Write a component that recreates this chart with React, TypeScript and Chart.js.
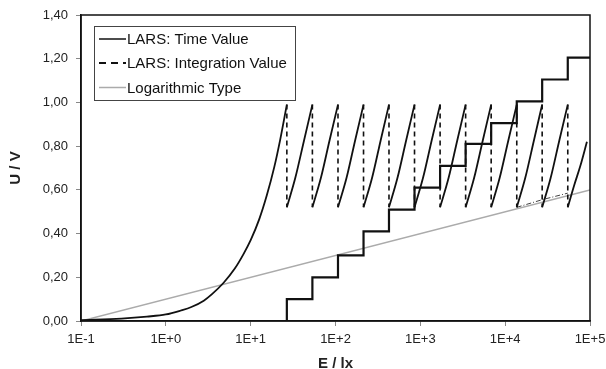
import React, { useEffect, useRef } from "react";
import { Chart, registerables } from "chart.js";

Chart.register(...registerables);

// ---- tick labels ----
const xTickValues = [0.1, 1, 10, 100, 1000, 10000, 100000];
const xTickLabels = ["1E-1", "1E+0", "1E+1", "1E+2", "1E+3", "1E+4", "1E+5"];
const yTickValues = [0, 0.2, 0.4, 0.6, 0.8, 1.0, 1.2, 1.4];
const yTickLabels = ["0,00", "0,20", "0,40", "0,60", "0,80", "1,00", "1,20", "1,40"];

// ---- LARS: Time Value (initial curve + sawtooth rises), null = gap ----
const timeE = [
  0.1, 0.3, 0.6, 1, 1.5, 2, 2.8, 3.5, 4.8, 6.5, 8.2, 10, 12.6, 15.5, 19, 22.3, 26.7, null,
  26.7, 33.6, 42.5, 53.4, null,
  53.4, 67.3, 84.9, 107, null,
  107, 135, 170, 214, null,
  214, 270, 340, 427, null,
  427, 538, 679, 854, null,
  854, 1076, 1358, 1710, null,
  1710, 2155, 2719, 3420, null,
  3420, 4309, 5438, 6840, null,
  6840, 8618, 10876, 13700, null,
  13700, 17262, 21783, 27300, null,
  27300, 34398, 43407, 54700, null,
  54700, 65000, 77000, 92000,
];
const timeU = [
  0.004, 0.011, 0.02, 0.03, 0.048, 0.064, 0.093, 0.123, 0.175, 0.24, 0.305, 0.37, 0.465, 0.575, 0.705, 0.83, 0.99, null,
  0.52, 0.655, 0.825, 0.99, null,
  0.52, 0.655, 0.825, 0.99, null,
  0.52, 0.655, 0.825, 0.99, null,
  0.52, 0.655, 0.825, 0.99, null,
  0.52, 0.655, 0.825, 0.99, null,
  0.52, 0.655, 0.825, 0.99, null,
  0.52, 0.655, 0.825, 0.99, null,
  0.52, 0.655, 0.825, 0.99, null,
  0.52, 0.655, 0.825, 0.99, null,
  0.52, 0.655, 0.825, 0.99, null,
  0.52, 0.655, 0.825, 0.99, null,
  0.52, 0.62, 0.71, 0.82,
];

// ---- LARS: Integration Value (vertical drops) ----
const dropE = [26.7, 53.4, 107, 214, 427, 854, 1710, 3420, 6840, 13700, 27300, 54700];
const dropTopU = [0.99, 0.99, 0.99, 0.99, 0.99, 0.99, 0.99, 0.99, 0.99, 0.99, 0.99, 0.99];
const dropBottomU = [0.52, 0.52, 0.52, 0.52, 0.52, 0.52, 0.52, 0.52, 0.52, 0.52, 0.52, 0.52];

// ---- staircase ----
const stepE = [26.7, 26.7, 53.4, 107, 214, 427, 854, 1710, 3420, 6840, 13700, 27300, 54700, 100000];
const stepU = [0, 0.1, 0.2, 0.3, 0.41, 0.51, 0.61, 0.71, 0.81, 0.905, 1.005, 1.105, 1.205, 1.205];

// ---- dash-dot segment at the end ----
const ddE = [13700, 27300, 54700];
const ddU = [0.52, 0.555, 0.585];

// ---- Logarithmic Type ----
const logE = [0.1, 100000];
const logU = [0, 0.6];

const FONT = "'Liberation Sans', Arial, Helvetica, sans-serif";

function pts(xs: (number | null)[], ys: (number | null)[]) {
  return xs.map((x, i) => ({ x: x === null ? (xs[i - 1] as number) : x, y: ys[i] }));
}

const framePlugin = {
  id: "frameAndLegend",
  afterDraw(chart: any) {
    const { ctx, chartArea: ca } = chart;
    ctx.save();
    ctx.strokeStyle = "#111";
    ctx.lineWidth = 1.5;
    ctx.strokeRect(ca.left, ca.top, ca.right - ca.left, ca.bottom - ca.top);

    // legend
    const lx = Math.round(ca.left + 13);
    const ly = Math.round(ca.top + 11);
    const w = 201;
    const h = 74;
    ctx.fillStyle = "#fff";
    ctx.fillRect(lx, ly, w, h);
    ctx.strokeStyle = "#444";
    ctx.lineWidth = 1;
    ctx.strokeRect(lx + 0.5, ly + 0.5, w, h);
    const rows = [13, 37, 61.5];
    const items = chart.data.datasets.filter((d: any) => d.inLegend);
    items.forEach((d: any, i: number) => {
      const y = ly + rows[i];
      ctx.beginPath();
      ctx.setLineDash(d.legendDash || []);
      ctx.strokeStyle = d.borderColor;
      ctx.lineWidth = d.legendWidth || d.borderWidth;
      ctx.moveTo(lx + 5, y);
      ctx.lineTo(lx + 32, y);
      ctx.stroke();
      ctx.setLineDash([]);
      ctx.fillStyle = "#111";
      ctx.font = `15px ${FONT}`;
      ctx.textBaseline = "middle";
      ctx.textAlign = "left";
      ctx.fillText(d.label, lx + 33, y + 1);
    });
    ctx.restore();
  },
};

export default function App() {
  const ref = useRef<HTMLCanvasElement | null>(null);

  useEffect(() => {
    if (!ref.current) return;
    Chart.defaults.font.family = FONT;
    const intData: any[] = [];
    dropE.forEach((e, i) => {
      intData.push({ x: e, y: dropTopU[i] });
      intData.push({ x: e, y: dropBottomU[i] });
      intData.push({ x: e, y: null });
    });

    const chart = new Chart(ref.current, {
      type: "line",
      data: {
        datasets: [
          {
            label: "LARS: Time Value",
            inLegend: true,
            legendWidth: 1.5,
            data: pts(timeE, timeU),
            borderColor: "#111",
            borderWidth: 1.8,
            pointRadius: 0,
            cubicInterpolationMode: "monotone",
            spanGaps: false,
          } as any,
          {
            label: "LARS: Integration Value",
            inLegend: true,
            legendDash: [7, 5],
            legendWidth: 2,
            data: intData,
            borderColor: "#111",
            borderWidth: 1.6,
            borderDash: [5, 4],
            pointRadius: 0,
            spanGaps: false,
          } as any,
          {
            label: "steps",
            data: pts(stepE, stepU),
            borderColor: "#111",
            borderWidth: 2.2,
            pointRadius: 0,
            stepped: "before",
          } as any,
          {
            label: "dashdot",
            data: pts(ddE, ddU),
            borderColor: "#444",
            borderWidth: 1,
            borderDash: [5, 2, 1, 2],
            pointRadius: 0,
          } as any,
          {
            label: "Logarithmic Type",
            inLegend: true,
            legendWidth: 1.5,
            data: pts(logE, logU),
            borderColor: "#ababab",
            borderWidth: 1.5,
            pointRadius: 0,
          } as any,
        ],
      },
      options: {
        responsive: false,
        animation: false,
        events: [],
        layout: { padding: { top: 15, right: 16, left: 0, bottom: 0 } },
        plugins: { legend: { display: false }, tooltip: { enabled: false } },
        scales: {
          x: {
            type: "logarithmic",
            min: 0.1,
            max: 100000,
            afterBuildTicks: (s: any) => {
              s.ticks = xTickValues.map((v) => ({ value: v }));
            },
            afterFit: (s: any) => {
              s.height = 48;
              s.paddingLeft = 0;
              s.paddingRight = 0;
            },
            ticks: {
              autoSkip: false,
              maxRotation: 0,
              padding: 6,
              color: "#222",
              font: { size: 13 },
              callback: (_v: any, i: number) => xTickLabels[i],
            },
            grid: { drawOnChartArea: false, tickLength: 5, color: "#888" },
            border: { color: "#111", width: 1.5 },
            title: {
              display: true,
              text: "E / lx",
              color: "#222",
              font: { size: 15, weight: "bold", lineHeight: 0.7 },
              padding: { top: 0, bottom: 0 },
            },
          },
          y: {
            type: "linear",
            min: 0,
            max: 1.4,
            afterBuildTicks: (s: any) => {
              s.ticks = yTickValues.map((v) => ({ value: v }));
            },
            afterFit: (s: any) => {
              s.width = 81;
              s.paddingTop = 0;
              s.paddingBottom = 0;
            },
            ticks: {
              padding: 8,
              color: "#222",
              font: { size: 13 },
              callback: (_v: any, i: number) => yTickLabels[i],
            },
            grid: { drawOnChartArea: false, tickLength: 5, color: "#888" },
            border: { color: "#111", width: 1.5 },
            title: {
              display: true,
              text: "U / V",
              color: "#222",
              font: { size: 15, weight: "bold", lineHeight: 1 },
              padding: { top: 8, bottom: 0 },
            },
          },
        },
      } as any,
      plugins: [framePlugin],
    });
    return () => chart.destroy();
  }, []);

  return (
    <div style={{ position: "fixed", left: 0, top: 0, width: 606, height: 369, background: "#fff" }}>
      <canvas ref={ref} width={606} height={369} style={{ display: "block" }} />
    </div>
  );
}
